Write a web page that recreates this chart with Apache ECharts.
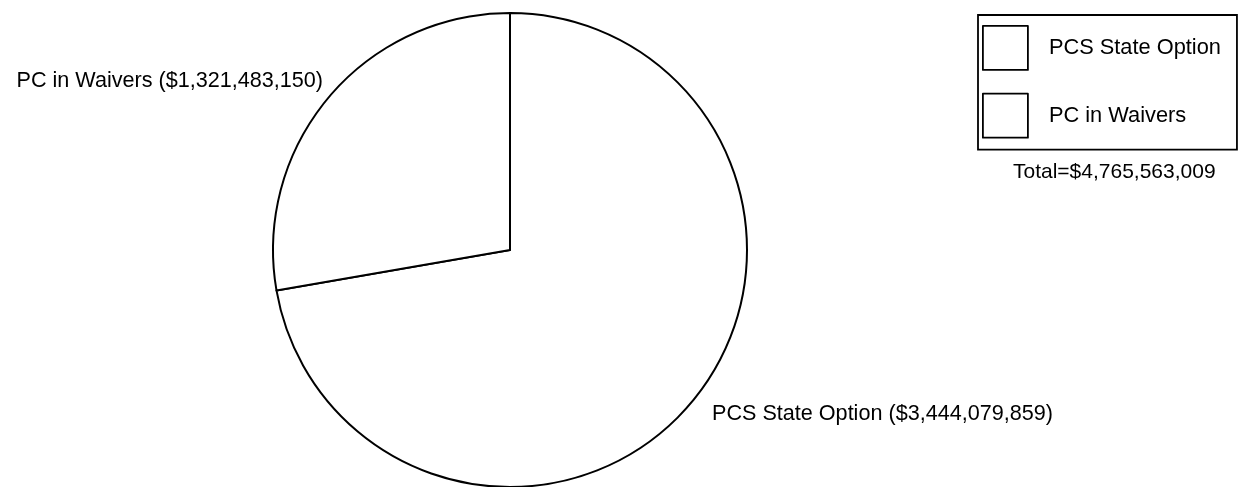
<!DOCTYPE html>
<html>
<head>
<meta charset="utf-8">
<script src="https://cdn.jsdelivr.net/npm/echarts@6/dist/echarts.min.js"></script>
<style>
html,body{margin:0;padding:0;background:#fff;}
#chart{width:1240px;height:487px;}
</style>
</head>
<body>
<div id="chart"></div>
<script>
const categories = ['PCS State Option', 'PC in Waivers'];
const values = [3444079859, 1321483150];
const totalLabel = 'Total=$4,765,563,009';

const FONT = '"Liberation Sans", Arial, Helvetica, sans-serif';
function fmt(v){ return '$' + v.toString().replace(/\B(?=(\d{3})+(?!\d))/g, ','); }

const chart = echarts.init(document.getElementById('chart'), null, {renderer:'canvas'});
chart.setOption({
  backgroundColor: '#fff',
  animation: false,
  title: {
    text: totalLabel,
    left: 1008, top: 157,
    textStyle: {fontFamily: FONT, fontSize: 21, fontWeight: 'normal', color: '#000'}
  },
  legend: {
    orient: 'vertical',
    left: 978, top: 15,
    data: categories,
    icon: 'rect',
    itemWidth: 45, itemHeight: 44, itemGap: 22,
    padding: [10, 16, 11, 4],
    borderColor: '#000', borderWidth: 1.8,
    selectedMode: false,
    textStyle: {fontFamily: FONT, fontSize: 21.8, color: '#000', padding: [0,0,0,16]},
    itemStyle: {color: '#fff', borderColor: '#000', borderWidth: 1.8}
  },
  series: [{
    type: 'pie',
    center: [510, 250],
    radius: 237,
    startAngle: 90,
    clockwise: true,
    avoidLabelOverlap: false,
    itemStyle: {color: '#fff', borderColor: '#000', borderWidth: 2},
    emphasis: {disabled: true},
    label: {
      show: true, position: 'outside',
      fontFamily: FONT, fontSize: 21.6, color: '#000',
      formatter: p => p.name + ' (' + fmt(p.value) + ')'
    },
    labelLine: {show: false},
    labelLayout: function(p){
      if (p.dataIndex === 1) return {x: 323, y: 81, align: 'right', verticalAlign: 'middle'};
      return {x: 712, y: 414, align: 'left', verticalAlign: 'middle'};
    },
    data: categories.map((c,i)=>({name:c, value:values[i]}))
  }]
});
</script>
</body>
</html>
